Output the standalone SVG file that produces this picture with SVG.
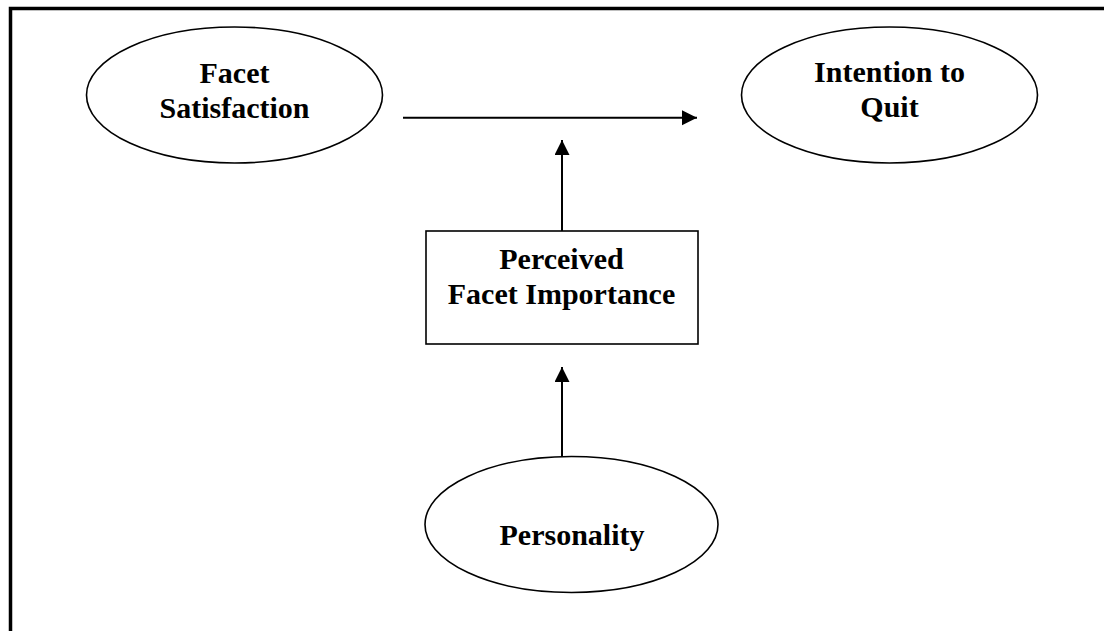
<svg xmlns="http://www.w3.org/2000/svg" width="1104" height="631" viewBox="0 0 1104 631">
<style>
.shape{fill:#fff;stroke:#000;stroke-width:1.6}
.lbl{font-family:"Liberation Serif","Times New Roman",serif;font-weight:bold;font-size:30px;fill:#000;text-anchor:middle}
.conn{stroke:#000;stroke-width:2;fill:none;marker-end:url(#arr)}
</style>
<defs>
<marker id="arr" markerUnits="userSpaceOnUse" markerWidth="16" markerHeight="16" refX="15" refY="7.5" orient="auto">
<path d="M0,0 L15,7.5 L0,15 z" fill="#000"/>
</marker>
</defs>
<rect width="1104" height="631" fill="#fff"/>
<path d="M10.5,631 V8.5 H1104" fill="none" stroke="#000" stroke-width="3.5"/>
<g id="facet-satisfaction">
<ellipse class="shape" cx="234.5" cy="95" rx="148" ry="68"/>
<text class="lbl" x="234.5" y="83">Facet</text>
<text class="lbl" x="234.5" y="118">Satisfaction</text>
</g>
<g id="intention-to-quit">
<ellipse class="shape" cx="889.5" cy="95" rx="148" ry="68"/>
<text class="lbl" x="889.5" y="82">Intention to</text>
<text class="lbl" x="889.5" y="117">Quit</text>
</g>
<g id="perceived-facet-importance">
<rect class="shape" x="426" y="231" width="272" height="113" stroke-width="2"/>
<text class="lbl" x="561.5" y="269">Perceived</text>
<text class="lbl" x="561.5" y="304">Facet Importance</text>
</g>
<g id="personality">
<ellipse class="shape" cx="571.5" cy="524.5" rx="146.5" ry="68"/>
<text class="lbl" x="572" y="545">Personality</text>
</g>
<g id="connectors">
<line class="conn" x1="403" y1="117.7" x2="697" y2="117.7"/>
<line class="conn" x1="562" y1="231" x2="562" y2="140"/>
<line class="conn" x1="562" y1="457" x2="562" y2="367"/>
</g>
</svg>
